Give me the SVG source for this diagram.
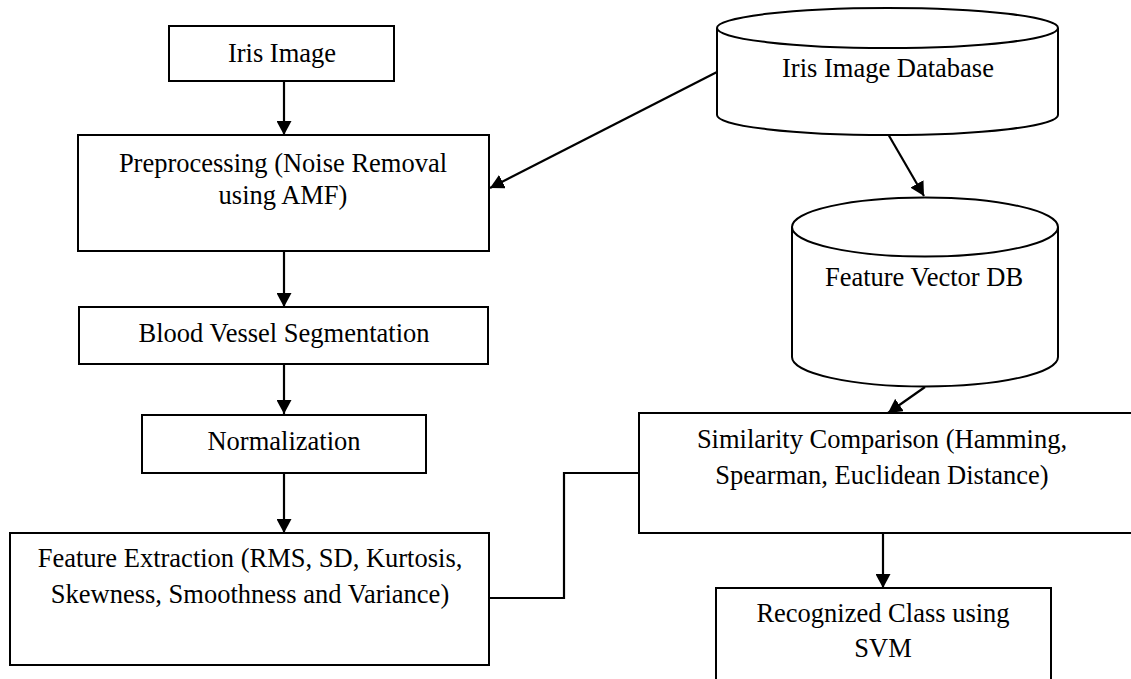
<svg xmlns="http://www.w3.org/2000/svg" width="1131" height="679" viewBox="0 0 1131 679">
  <style>
    .box { fill: #fff; stroke: #000; stroke-width: 2; }
    .db { fill: #fff; stroke: #000; stroke-width: 2; }
    .lbl { font-family: "Liberation Serif", "Times New Roman", serif; font-size: 26.5px; fill: #000; text-anchor: middle; }
    .edge { fill: none; stroke: #000; stroke-width: 2.2; }
  </style>
  <defs>
    <marker id="arrow" markerUnits="userSpaceOnUse" markerWidth="15" markerHeight="15" refX="14" refY="7.5" orient="auto">
      <path d="M0,0 L14,7.5 L0,15 z" fill="#000"/>
    </marker>
  </defs>
  <rect width="1131" height="679" fill="#fff"/>

  <!-- connectors -->
  <g id="connectors">
    <line class="edge" x1="284" y1="82" x2="284" y2="135" marker-end="url(#arrow)"/>
    <line class="edge" x1="717" y1="72" x2="490" y2="188" marker-end="url(#arrow)"/>
    <line class="edge" x1="888" y1="134" x2="924" y2="196" marker-end="url(#arrow)"/>
    <line class="edge" x1="284" y1="251" x2="284" y2="307" marker-end="url(#arrow)"/>
    <line class="edge" x1="284" y1="364" x2="284" y2="414" marker-end="url(#arrow)"/>
    <line class="edge" x1="284" y1="473" x2="284" y2="533" marker-end="url(#arrow)"/>
    <line class="edge" x1="925" y1="387" x2="888" y2="413" marker-end="url(#arrow)"/>
    <line class="edge" x1="883" y1="533" x2="883" y2="588" marker-end="url(#arrow)"/>
    <polyline class="edge" points="489,598 564,598 564,473 639,473"/>
  </g>

  <g id="iris-image">
    <rect class="box" x="169" y="26" width="225" height="55"/>
    <text class="lbl" x="282" y="62">Iris Image</text>
  </g>

  <g id="preprocessing">
    <rect class="box" x="78" y="135" width="411" height="116"/>
    <text class="lbl" x="283" y="172">Preprocessing (Noise Removal</text>
    <text class="lbl" x="283" y="204">using AMF)</text>
  </g>

  <g id="blood-vessel-segmentation">
    <rect class="box" x="79" y="307" width="409" height="57"/>
    <text class="lbl" x="284" y="342">Blood Vessel Segmentation</text>
  </g>

  <g id="normalization">
    <rect class="box" x="142" y="415" width="284" height="58"/>
    <text class="lbl" x="284" y="450">Normalization</text>
  </g>

  <g id="feature-extraction">
    <rect class="box" x="10" y="533" width="479" height="132"/>
    <text class="lbl" x="250" y="567">Feature Extraction (RMS, SD, Kurtosis,</text>
    <text class="lbl" x="250" y="603">Skewness, Smoothness and Variance)</text>
  </g>

  <g id="iris-image-database">
    <path class="db" d="M717,28 L717,115 A170.5,20 0 0 0 1058,115 L1058,28 A170.5,20 0 0 0 717,28 Z"/>
    <path class="db" d="M717,28 A170.5,20 0 0 0 1058,28" fill="none"/>
    <text class="lbl" x="888" y="77">Iris Image Database</text>
  </g>

  <g id="feature-vector-db">
    <path class="db" d="M792,227 L792,357 A133,29.5 0 0 0 1058,357 L1058,227 A133,29.5 0 0 0 792,227 Z"/>
    <path class="db" d="M792,227 A133,29.5 0 0 0 1058,227" fill="none"/>
    <text class="lbl" x="924" y="286">Feature Vector DB</text>
  </g>

  <g id="similarity-comparison">
    <rect class="box" x="639" y="413" width="500" height="120"/>
    <text class="lbl" x="882" y="448">Similarity Comparison (Hamming,</text>
    <text class="lbl" x="882" y="484">Spearman, Euclidean Distance)</text>
  </g>

  <g id="recognized-class">
    <rect class="box" x="716" y="588" width="335" height="110"/>
    <text class="lbl" x="883" y="622">Recognized Class using</text>
    <text class="lbl" x="883" y="657">SVM</text>
  </g>
</svg>
